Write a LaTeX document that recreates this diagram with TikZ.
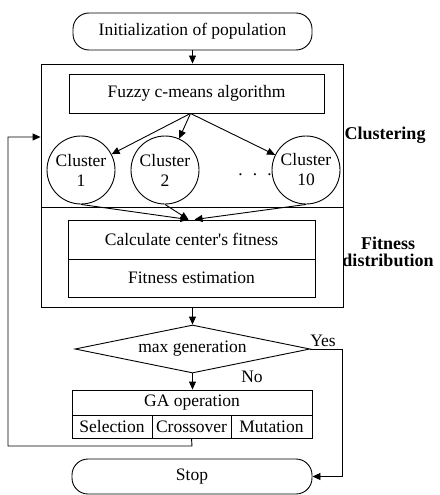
\documentclass[tikz,border=0pt]{standalone}
\usepackage{fontspec}
\setmainfont{Liberation Serif}
\usetikzlibrary{arrows.meta,shapes.geometric,calc}
\begin{document}
\begin{tikzpicture}[x=1pt,y=-1pt,
  every node/.style={font=\fontsize{17.5}{20}\selectfont},
  ln/.style={line width=0.9pt},
  arr/.style={ln,-{Triangle[length=8pt,width=7pt]}},
  box/.style={draw,ln,inner sep=0pt,rectangle},
  term/.style={draw,ln,inner sep=0pt,rounded corners=16pt},
  clus/.style={draw,ln,circle,inner sep=0pt,minimum size=68pt,align=center},
  lbl/.style={font=\fontsize{18}{17}\selectfont\bfseries,align=center},
  dec/.style={draw,ln,diamond,inner sep=0pt,aspect=4.9,minimum width=235pt,minimum height=48pt},
]
\useasboundingbox (0,0) rectangle (439,495);

\node[term,minimum width=239pt,minimum height=37pt] (init) at (192.5,31.5) {Initialization of population};
\node[box,minimum width=302pt,minimum height=243pt] (big) at (192,185.5) {};
\draw[ln] (big.west |- 0,207.5) coordinate (dl) -- (big.east |- 0,207.5) coordinate (dr);

\node[box,minimum width=255pt,minimum height=39pt] (fuzzy) at (196.5,93.5) {Fuzzy c-means algorithm};
\node[clus] (c1) at (81,170) {Cluster\\1};
\node[clus] (c2) at (165,170) {Cluster\\2};
\node[clus] (c3) at (306,170) {Cluster\\10};
\node (dots) at (255,177) {·\,\,\,·\,\,\,·};

\node[box,minimum width=247pt,minimum height=39pt] (calc) at (191.5,239.5) {Calculate center{\fontspec{Liberation Serif}\symbol{"0027}}s fitness};
\node[box,minimum width=247pt,minimum height=38pt] (fest) at (191.5,278) {Fitness estimation};

\node[lbl] (clab) at (385,135) {Clustering};
\node[lbl] (flab) at (388,252) {Fitness\\distribution};

\node[dec] (dec) at (192.5,349) {max generation};
\node (yes) at (323,341) {Yes};
\node (no) at (252,377) {No};

\node[box,minimum width=240pt,minimum height=25pt] (ga) at (192,402.5) {GA operation};
\node[box,minimum width=80pt,minimum height=23pt] (sel) at (112,426.5) {Selection};
\node[box,minimum width=79pt,minimum height=23pt] (cro) at (191.5,426.5) {Crossover};
\node[box,minimum width=81pt,minimum height=23pt] (mut) at (271.5,426.5) {Mutation};

\node[term,minimum width=240pt,minimum height=35pt] (stop) at (192,476.5) {Stop};

% connectors
\draw[arr] (init.south) -- (init.south |- big.north);
\draw[arr] ($(fuzzy.south)+(-6,0)$) -- (c1);
\draw[arr] ($(fuzzy.south)+(-6,0)$) -- (c2);
\draw[arr] ($(fuzzy.south)+(-6,0)$) -- (c3);
\draw[arr] (c1.south) -- ($(calc.north)+(-3,0)$);
\draw[arr] (c2.south) -- ($(calc.north)+(-3,0)$);
\draw[arr] (c3.south) -- ($(calc.north)+(3,0)$);
\draw[arr] (big.south -| dec.north) -- (dec.north);
\draw[arr] (dec.south) -- (dec.south |- ga.north);
\coordinate (yr) at (342,349);
\draw[arr] (dec.east) -- (yr) |- (stop.east);
\coordinate (fb1) at (192,446);
\coordinate (fb2) at (8,446);
\coordinate (fb3) at (8,137);
\draw[arr] (cro.south) -- (fb1) -- (fb2) -- (fb3) -- (big.west |- fb3);
\end{tikzpicture}
\end{document}
